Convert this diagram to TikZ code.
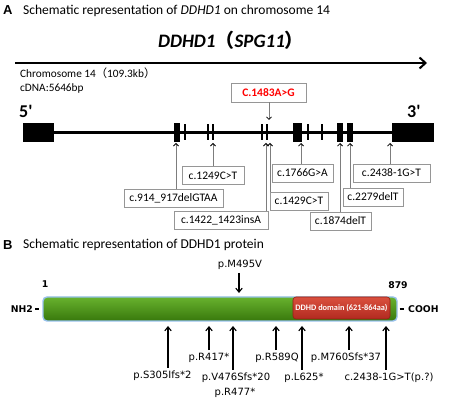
\documentclass[tikz,border=0pt]{standalone}
\usepackage{fontspec}
\setmainfont{Carlito}
\newfontfamily\dejavu{DejaVu Sans}
\newfontfamily\cjk{Noto Sans CJK SC}
\newfontfamily\arialf{Liberation Sans}
\usetikzlibrary{arrows.meta}
\definecolor{gtop}{RGB}{104,178,46}
\definecolor{gbot}{RGB}{56,120,12}
\definecolor{glow}{RGB}{150,192,236}
\definecolor{rtop}{RGB}{218,80,62}
\definecolor{rbot}{RGB}{178,42,32}
\definecolor{rdark}{RGB}{150,30,20}
\definecolor{boxgray}{RGB}{150,150,150}
\definecolor{linegray}{RGB}{125,125,125}
\begin{document}
\begin{tikzpicture}[x=1pt,y=-1pt,
  gbox/.style={draw=boxgray, line width=0.8pt, fill=white, font=\fontsize{11.5}{12}\selectfont, inner xsep=3pt, inner ysep=0pt, minimum height=18pt},
  garrow/.style={draw=linegray, line width=0.9pt, -{Straight Barb[length=2.5pt,width=5pt,color=black,line width=0.8pt]}},
  exonblk/.style={fill=black, inner sep=0pt, minimum height=19pt},
  exonthin/.style={fill=black, inner sep=0pt, minimum width=2pt, minimum height=16pt},
  plabel/.style={font=\dejavu\fontsize{10}{11}\selectfont, inner xsep=0pt, inner ysep=3pt},
  parrow/.style={line width=1.3pt, -{Straight Barb[length=4pt,width=6.5pt,line width=1.1pt]}},
  boldlab/.style={font=\dejavu\bfseries\fontsize{9.3}{10}\selectfont, inner sep=0pt},
  ttl/.style={font=\fontsize{13.5}{15}\selectfont, inner sep=0pt, anchor=west},
  letter/.style={font=\arialf\bfseries\fontsize{13}{14}\selectfont, inner sep=0pt, anchor=west}
]
\useasboundingbox (0,0) rectangle (459,404);

% ---------- Part A ----------
\node[letter] (lA) at (3,10.5) {A};
\node[ttl] (tA) at (23,10.5) {Schematic representation of \textit{DDHD1} on chromosome 14};
\node[font=\bfseries\itshape\fontsize{19}{20}\selectfont, inner sep=0pt] (gname) at (231,40.5)
  {DDHD1{\cjk （}SPG11{\cjk ）}};
\coordinate (chrS) at (15,63);
\coordinate (chrE) at (427,63);
\draw[line width=2.5pt, -{Straight Barb[length=6pt,width=11pt,line width=2pt]}] (chrS) -- (chrE);
\node[anchor=west, inner sep=0pt, font=\fontsize{11.3}{12}\selectfont] (chr) at (20,73) {Chromosome 14{\cjk （}109.3kb{\cjk ）}};
\node[anchor=west, inner sep=0pt, font=\fontsize{11.3}{12}\selectfont] (cdna) at (20,88) {cDNA:5646bp};
\node[anchor=west, inner sep=0pt, font=\bfseries\fontsize{18}{19}\selectfont] (p5) at (19,111) {5\textquotesingle};
\node[anchor=west, inner sep=0pt, font=\bfseries\fontsize{18}{19}\selectfont] (p3) at (407,111) {3\textquotesingle};

% gene line and exons
\draw[line width=3pt] (23,133) -- (434,133);
\node[exonblk, minimum width=31pt] (L5) at (38.5,132.5) {};
\node[exonblk, minimum width=42pt] (L3) at (413,132.5) {};
\node[exonblk, minimum width=6pt] (e1) at (177,132.5) {};
\node[exonthin] (t1) at (184.5,132.5) {};
\node[exonthin] (t2) at (207.5,132.5) {};
\node[exonthin] (t3) at (212.5,132.5) {};
\node[exonthin] (t4) at (261.5,132.5) {};
\node[exonthin] (t5) at (267,132.5) {};
\node[exonblk, minimum width=9pt] (e2) at (297.5,132.5) {};
\node[exonthin] (t6) at (308,132.5) {};
\node[exonthin] (t7) at (322,132.5) {};
\node[exonblk, minimum width=6pt] (e3) at (340,132.5) {};
\node[exonblk, minimum width=6pt] (e4) at (350,132.5) {};

% mutation boxes
\node[gbox, minimum width=75pt, minimum height=19pt, text=red, font=\bfseries\fontsize{11.5}{12}\selectfont] (b1483) at (268.5,92.5) {C.1483A>G};
\node[gbox, minimum width=62pt] (b1249) at (213,175.5) {c.1249C>T};
\node[gbox, minimum width=99pt] (b914) at (173.5,198.5) {c.914\_917delGTAA};
\node[gbox, minimum width=94pt] (b1422) at (221,220) {c.1422\_1423insA};
\node[gbox, minimum width=58pt] (b1429) at (299,201) {c.1429C>T};
\node[gbox, minimum width=61pt] (b1766) at (302.5,173) {c.1766G>A};
\node[gbox, minimum width=61pt] (b1874) at (340.5,221) {c.1874delT};
\node[gbox, minimum width=60pt] (b2279) at (373,197) {c.2279delT};
\node[gbox, minimum width=77pt] (b2438) at (391.5,173) {c.2438-1G>T};

\coordinate (a1483) at (269,120);
\coordinate (a914) at (176,143);
\coordinate (a1249) at (213,143);
\coordinate (a1422) at (266,143);
\coordinate (a1429) at (270,143);
\coordinate (a1766) at (301,143);
\coordinate (a1874) at (340,143);
\coordinate (a2279) at (350,143);
\coordinate (a2438) at (390,143);
\draw[garrow] (b1483.south -| a1483) -- (a1483);
\draw[garrow] (b914.north -| a914) -- (a914);
\draw[garrow] (b1249.north -| a1249) -- (a1249);
\draw[garrow] (b1422.north -| a1422) -- (a1422);
\draw[garrow] (b1429.north -| a1429) -- (a1429);
\draw[garrow] (b1766.north -| a1766) -- (a1766);
\draw[garrow] (b1874.north -| a1874) -- (a1874);
\draw[garrow] (b2279.north -| a2279) -- (a2279);
\draw[garrow] (b2438.north -| a2438) -- (a2438);

% ---------- Part B ----------
\node[letter] (lB) at (3,245) {B};
\node[ttl] (tB) at (23,245) {Schematic representation of DDHD1 protein};

\node[inner sep=0pt, minimum width=354pt, minimum height=24pt, rounded corners=4pt,
  draw=glow, line width=1.4pt, top color=gtop, bottom color=gbot] (prot) at (220,309) {};
\node[inner sep=0pt, minimum width=97pt, minimum height=22pt, rounded corners=3pt,
  draw=rdark, line width=0.6pt, top color=rtop, bottom color=rbot, text=white,
  font=\bfseries\fontsize{8.3}{9}\selectfont] (dom) at (341.5,308) {DDHD domain (621-864aa)};

\node[boldlab] (n1) at (45,284) {1};
\node[boldlab] (n879) at (398,285) {879};
\node[boldlab, anchor=east] (nh2) at (33,309) {NH2};
\node[boldlab, anchor=west] (cooh) at (408,309) {COOH};
\draw[line width=1.3pt] ([xshift=2pt]nh2.east) -- ([xshift=-3pt]prot.west);
\draw[line width=1.3pt] ([xshift=2pt]prot.east) -- ([xshift=-4pt]cooh.west);

\node[plabel] (m495) at (240,265) {p.M495V};
\coordinate (q495) at (239,293);
\draw[parrow] (m495.south -| q495) -- (q495);

\node[plabel] (s305) at (162.5,376) {p.S305Ifs*2};
\node[plabel] (r417) at (209,358) {p.R417*};
\node[plabel] (v476) at (236,378) {p.V476Sfs*20};
\node[plabel] (r477) at (235,393) {p.R477*};
\node[plabel] (r589) at (277,358) {p.R589Q};
\node[plabel] (l625) at (304,378) {p.L625*};
\node[plabel] (m760) at (346,358) {p.M760Sfs*37};
\node[plabel] (c2438) at (389,378) {c.2438-1G>T(p.?)};

\coordinate (q305) at (168,326);
\coordinate (q417) at (209,326);
\coordinate (q476) at (233,326);
\coordinate (q589) at (276,326);
\coordinate (q625) at (302,326);
\coordinate (q760) at (349,326);
\coordinate (q2438) at (386,326);
\draw[parrow] (s305.north -| q305) -- (q305);
\draw[parrow] (r417.north -| q417) -- (q417);
\draw[parrow] (v476.north -| q476) -- (q476);
\draw[parrow] (r589.north -| q589) -- (q589);
\draw[parrow] (l625.north -| q625) -- (q625);
\draw[parrow] (m760.north -| q760) -- (q760);
\draw[parrow] (c2438.north -| q2438) -- (q2438);
\end{tikzpicture}
\end{document}
